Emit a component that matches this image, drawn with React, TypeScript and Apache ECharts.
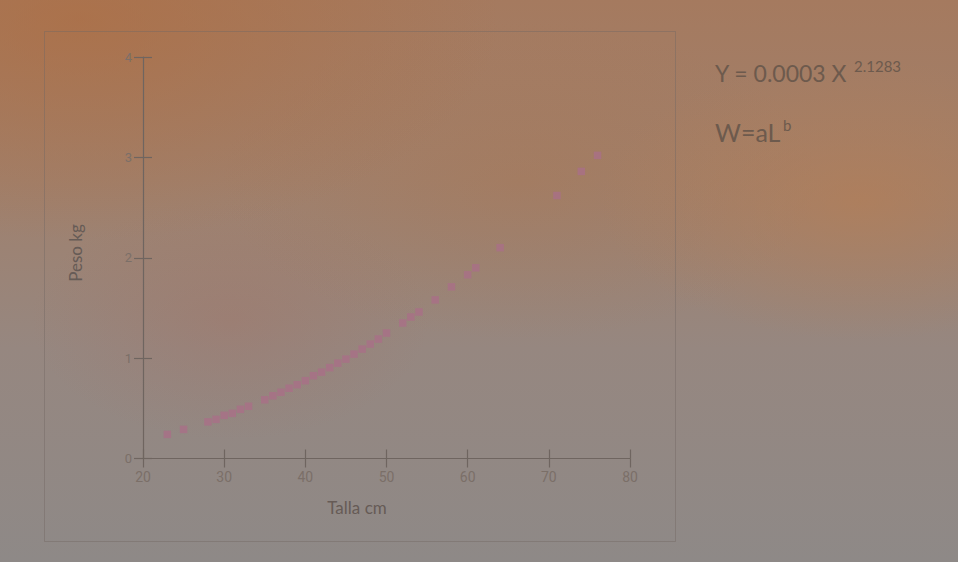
import React, { useEffect, useRef } from "react";
import * as echarts from "echarts";

const tallaCm = [23, 25, 28, 29, 30, 31, 32, 33, 35, 36, 37, 38, 39, 40, 41, 42, 43, 44, 45, 46, 47, 48, 49, 50, 52, 53, 54, 56, 58, 60, 61, 64, 71, 74, 76];
const pesoKg = [0.24, 0.29, 0.365, 0.39, 0.43, 0.45, 0.49, 0.52, 0.585, 0.625, 0.66, 0.70, 0.735, 0.775, 0.825, 0.86, 0.905, 0.95, 0.99, 1.04, 1.09, 1.14, 1.19, 1.25, 1.35, 1.41, 1.46, 1.58, 1.71, 1.83, 1.90, 2.10, 2.62, 2.86, 3.02];
const xTicks = { min: 20, max: 80, interval: 10 };
const yTicks = { min: 0, max: 4, interval: 1 };
const xTitle = "Talla cm";
const yTitle = "Peso kg";
const equation = "Y = 0.0003 X";
const exponent = "2.1283";
const model = "W=aL";
const modelSup = "b";

const axisCol = "#6f6560";
const labelCol = "#7b6f68";
const titleCol = "#665b56";
const eqCol = "#6d5a4d";

export default function App() {
  const ref = useRef<HTMLDivElement>(null);
  useEffect(() => {
    document.body.style.margin = "0";
    const chart = echarts.init(ref.current!, null, { renderer: "svg" });
    const points = tallaCm.map((x, i) => [x, pesoKg[i]]);
    const baseX = {
      type: "value" as const,
      min: xTicks.min,
      max: xTicks.max,
      interval: xTicks.interval,
      splitLine: { show: false },
    };
    const baseY = {
      type: "value" as const,
      min: yTicks.min,
      max: yTicks.max,
      interval: yTicks.interval,
      splitLine: { show: false },
    };
    chart.setOption({
      animation: false,
      backgroundColor: "transparent",
      grid: { left: 143, right: 328, top: 57, bottom: 103.5 },
      xAxis: [
        {
          ...baseX,
          position: "bottom",
          axisLine: { show: true, lineStyle: { color: axisCol, width: 1.2 } },
          axisTick: { show: true, inside: false, length: 9, lineStyle: { color: axisCol, width: 1.2 } },
          axisLabel: { color: labelCol, fontSize: 14, fontFamily: "Roboto", margin: 11 },
        },
        {
          ...baseX,
          position: "bottom",
          axisLine: { show: false },
          axisTick: { show: true, inside: true, length: 9, lineStyle: { color: axisCol, width: 1.2 } },
          axisLabel: { show: false },
        },
      ],
      yAxis: [
        {
          ...baseY,
          position: "left",
          axisLine: { show: true, lineStyle: { color: axisCol, width: 1.2 } },
          axisTick: { show: true, inside: false, length: 9, lineStyle: { color: axisCol, width: 1.2 } },
          axisLabel: { color: labelCol, fontSize: 13, fontFamily: "Roboto", margin: 11 },
        },
        {
          ...baseY,
          position: "left",
          axisLine: { show: false },
          axisTick: { show: true, inside: true, length: 9, lineStyle: { color: axisCol, width: 1.2 } },
          axisLabel: { show: false },
        },
      ],
      series: [
        {
          type: "scatter",
          data: points,
          symbol: "rect",
          symbolSize: 7.5,
          itemStyle: { color: "#a96f87" },
        },
      ],
      graphic: [
        {
          type: "rect",
          shape: { x: 44.5, y: 31.5, width: 631, height: 510 },
          style: { fill: "none", stroke: "rgba(115,105,100,0.45)", lineWidth: 1 },
          silent: true,
          z: -1,
        },
        {
          type: "text",
          x: 357,
          y: 507,
          style: { text: xTitle, fill: titleCol, font: "17px Lato", textAlign: "center", textVerticalAlign: "middle" },
        },
        {
          type: "text",
          x: 75,
          y: 253,
          rotation: Math.PI / 2,
          style: { text: yTitle, fill: titleCol, font: "17px Lato", textAlign: "center", textVerticalAlign: "middle" },
        },
        {
          type: "text",
          x: 715,
          y: 73,
          style: { text: equation, fill: eqCol, font: "23px Lato", textAlign: "left", textVerticalAlign: "middle" },
        },
        {
          type: "text",
          x: 854,
          y: 66,
          style: { text: exponent, fill: eqCol, font: "15px Lato", textAlign: "left", textVerticalAlign: "middle" },
        },
        {
          type: "text",
          x: 715,
          y: 132,
          style: { text: model, fill: eqCol, font: "25px Lato", textAlign: "left", textVerticalAlign: "middle" },
        },
        {
          type: "text",
          x: 783,
          y: 125,
          style: { text: modelSup, fill: eqCol, font: "15px Lato", textAlign: "left", textVerticalAlign: "middle" },
        },
      ],
    });
    return () => chart.dispose();
  }, []);

  const bg = [
    "radial-gradient(ellipse 260px 140px at 860px 200px, rgba(185,125,80,0.55), rgba(185,125,80,0) 100%)",
    "radial-gradient(ellipse 420px 220px at 80px 20px, rgba(175,108,62,0.6), rgba(175,108,62,0) 100%)",
    "radial-gradient(ellipse 300px 160px at 520px 180px, rgba(170,115,75,0.3), rgba(170,115,75,0) 100%)",
    "radial-gradient(ellipse 200px 120px at 230px 320px, rgba(165,110,95,0.3), rgba(165,110,95,0) 100%)",
    "linear-gradient(180deg, rgb(165,122,95) 0%, rgb(160,128,108) 32%, rgb(150,135,128) 62%, rgb(142,137,135) 100%)",
  ].join(",");

  return (
    <div style={{ position: "absolute", left: 0, top: 0, width: 958, height: 562, background: bg }}>
      <div ref={ref} style={{ width: 958, height: 562 }} />
    </div>
  );
}
